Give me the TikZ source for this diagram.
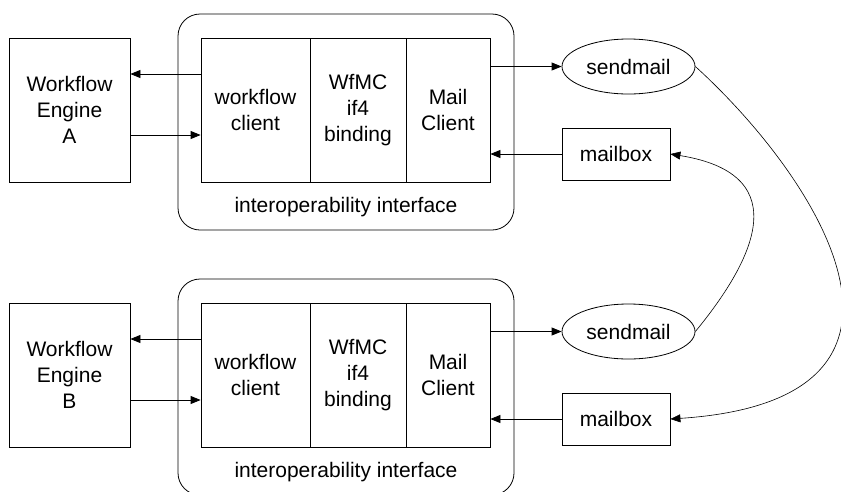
\documentclass[tikz,border=0pt]{standalone}
\usepackage{fontspec}
\setmainfont{Liberation Sans}
\usetikzlibrary{arrows.meta,shapes.geometric}
\begin{document}
\begin{tikzpicture}[x=1pt,y=-1pt,
  txt/.style={font=\fontsize{21}{26}\selectfont, align=center},
  box/.style={draw, line width=0.8pt, inner sep=0pt, txt},
  outer/.style={draw, line width=0.8pt, rounded corners=22pt, inner sep=0pt, minimum width=336pt, minimum height=216pt},
  oval/.style={draw, ellipse, line width=0.8pt, inner sep=0pt, minimum width=133pt, minimum height=55pt, txt},
  arr/.style={-{Triangle[length=10pt,width=8pt]}, line width=0.8pt},
  curve/.style={-{Triangle[length=10pt,width=8pt]}, line width=0.6pt}
]
\useasboundingbox (0,0) rectangle (841,491);
\clip (0,0) rectangle (841,491);
\foreach \s/\o in {A/0, B/265} {
  \node[outer] (out\s) at (346,122+\o) {};
  \node[txt] (lab\s) at (346,207+\o) {interoperability interface};
  \node[box, minimum width=121pt, minimum height=144pt] (eng\s) at (69.5,110+\o) {Workflow\\Engine\\\s};
  \node[box, minimum width=109pt, minimum height=144pt] (wc\s) at (255.5,110+\o) {workflow\\client};
  \node[box, minimum width=96pt, minimum height=144pt] (wf\s) at (358,110+\o) {WfMC\\if4\\binding};
  \node[box, minimum width=84pt, minimum height=144pt] (mc\s) at (448,110+\o) {Mail\\Client};
  \node[oval] (sm\s) at (628.5,66.5+\o) {sendmail};
  \node[box, minimum width=108pt, minimum height=52pt] (mb\s) at (616,154+\o) {mailbox};
  \draw[arr] ([yshift=36pt]wc\s.west) -- ([yshift=36pt]eng\s.east);
  \draw[arr] ([yshift=-25pt]eng\s.east) -- ([yshift=-25pt]wc\s.west);
  \draw[arr] (mc\s.east |- sm\s.west) -- (sm\s.west);
  \draw[arr] (mb\s.west) -- (mb\s.west -| mc\s.east);
}
\draw[curve] (smA.east) .. controls (820,180) and (960,400) .. (mbB.east);
\draw[curve] (smB.east) .. controls (750,265) and (800,175) .. (mbA.east);
\end{tikzpicture}
\end{document}
